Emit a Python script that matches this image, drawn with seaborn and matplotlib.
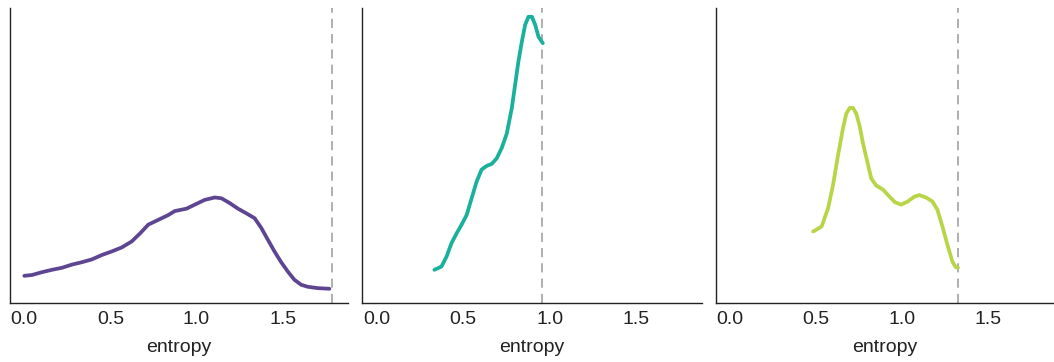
import numpy as np
import pandas as pd
import matplotlib
matplotlib.use("Agg")
import matplotlib.pyplot as plt
import seaborn as sns

# --- data (entropy vs. density) ---
entropy_a = [0.0, 0.044, 0.102, 0.160, 0.218, 0.276, 0.334, 0.392, 0.450, 0.508, 0.566,
             0.624, 0.672, 0.720, 0.778, 0.836, 0.874, 0.942, 0.990, 1.048, 1.106,
             1.145, 1.193, 1.241, 1.299, 1.338, 1.376, 1.415, 1.453, 1.492, 1.530,
             1.569, 1.608, 1.646, 1.704, 1.772]
density_a = [0.17, 0.18, 0.215, 0.245, 0.27, 0.31, 0.34, 0.375, 0.43, 0.475, 0.525,
             0.60, 0.70, 0.81, 0.87, 0.93, 0.98, 1.01, 1.06, 1.12, 1.15,
             1.14, 1.08, 1.01, 0.94, 0.89, 0.77, 0.62, 0.475, 0.34, 0.225,
             0.12, 0.058, 0.033, 0.016, 0.008]

entropy_b = [0.335, 0.376, 0.405, 0.434, 0.463, 0.492, 0.521, 0.550, 0.579, 0.608, 0.637,
             0.666, 0.695, 0.724, 0.753, 0.782, 0.801, 0.820, 0.840, 0.859, 0.878,
             0.898, 0.917, 0.936, 0.961]
density_b = [0.245, 0.286, 0.41, 0.58, 0.70, 0.81, 0.93, 1.14, 1.35, 1.50, 1.545,
             1.57, 1.64, 1.77, 1.95, 2.27, 2.56, 2.85, 3.10, 3.31, 3.41,
             3.41, 3.31, 3.16, 3.08]

entropy_c = [0.483, 0.532, 0.570, 0.599, 0.628, 0.657, 0.676, 0.696, 0.715, 0.734, 0.754,
             0.773, 0.798, 0.821, 0.850, 0.889, 0.928, 0.960, 0.995, 1.034, 1.072,
             1.101, 1.140, 1.178, 1.207, 1.236, 1.265, 1.294, 1.313, 1.327]
density_c = [0.724, 0.786, 1.016, 1.31, 1.68, 2.02, 2.20, 2.27, 2.27, 2.20, 2.04,
             1.83, 1.60, 1.39, 1.30, 1.25, 1.16, 1.09, 1.06, 1.10, 1.16,
             1.18, 1.15, 1.10, 0.995, 0.786, 0.558, 0.349, 0.279, 0.272]

max_entropy = [1.787, 0.955, 1.327]
colors = ["#5e4592", "#19b09c", "#b8d548"]
xticks = [0.0, 0.5, 1.0, 1.5]

sns.set_theme(style="ticks")
plt.rcParams["font.family"] = ["Liberation Sans", "DejaVu Sans"]

fig = plt.figure(figsize=(10.54, 3.62), dpi=100)
W, H = 1054, 362
boxes = [(10, 348), (362, 702), (716, 1053)]
top, bottom = 8, 303

series = [(entropy_a, density_a), (entropy_b, density_b), (entropy_c, density_c)]
for i, ((x0, x1), (ex, dy)) in enumerate(zip(boxes, series)):
    ax = fig.add_axes([x0 / W, 1 - bottom / H, (x1 - x0) / W, (bottom - top) / H])
    df = pd.DataFrame({"entropy": ex, "density": dy})
    sns.lineplot(data=df, x="entropy", y="density", ax=ax, color=colors[i],
                 linewidth=2.7, solid_capstyle="round", solid_joinstyle="round",
                 sort=False)
    ax.axvline(max_entropy[i], color="#9a9a9a", linewidth=1.1, linestyle=(0, (6, 4)),
               zorder=0)
    ax.set_xlim(-0.083, 1.88)
    ax.set_ylim(-0.17, 3.52)
    ax.set_xticks(xticks)
    ax.set_xticklabels([f"{t:.1f}" for t in xticks])
    ax.set_yticks([])
    ax.set_ylabel("")
    ax.set_xlabel("entropy", fontsize=14, labelpad=8, color="#222222")
    ax.tick_params(axis="x", length=0, pad=6, labelsize=14, labelcolor="#222222")
    for s in ["top", "right"]:
        ax.spines[s].set_visible(False)
    for s in ["left", "bottom"]:
        ax.spines[s].set_color("#222222")
        ax.spines[s].set_linewidth(1.0)

fig.savefig("out.png", dpi=100)
